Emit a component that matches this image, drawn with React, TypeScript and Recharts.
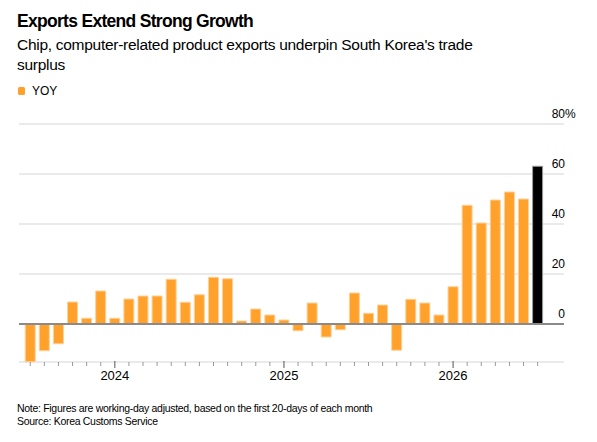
import { Bar, BarChart, CartesianGrid, Cell, ReferenceLine, XAxis, YAxis } from 'recharts'

// Monthly YoY export growth (%), working-day adjusted, first 20 days of each month
const months = [
  '2023-07', '2023-08', '2023-09', '2023-10', '2023-11', '2023-12',
  '2024-01', '2024-02', '2024-03', '2024-04', '2024-05', '2024-06',
  '2024-07', '2024-08', '2024-09', '2024-10', '2024-11', '2024-12',
  '2025-01', '2025-02', '2025-03', '2025-04', '2025-05', '2025-06',
  '2025-07', '2025-08', '2025-09', '2025-10', '2025-11', '2025-12',
  '2026-01', '2026-02', '2026-03', '2026-04', '2026-05', '2026-06',
  '2026-07',
]

const yoy = [
  -15.1, -10.7, -7.9, 8.8, 2.3, 13.2,
  2.3, 10.0, 11.2, 11.2, 17.9, 8.7,
  11.7, 18.7, 18.1, 1.2, 6.0, 3.6,
  1.6, -2.7, 8.4, -5.2, -2.3, 12.4,
  4.3, 7.6, -10.5, 9.9, 8.4, 3.6,
  14.9, 47.5, 40.4, 49.6, 52.8, 50.0,
  63.1,
]

const yTicks = [0, 20, 40, 60, 80]

const ORANGE = '#ffa12b'
const FONT = '"Liberation Sans", Arial, sans-serif'

const data = months.map((m, i) => ({ idx: i, month: m, yoy: yoy[i] }))
const lastIdx = data.length - 1

function MonthTick({ x, y, payload }: any) {
  const month = months[payload.value]
  if (!month) return null
  const isJan = month.endsWith('-01')
  return (
    <g>
      <line
        x1={x}
        x2={x}
        y1={isJan ? y - 1 : y}
        y2={isJan ? y + 6 : y + 4}
        stroke={isJan ? '#555' : '#999'}
        strokeWidth={1}
      />
      {isJan && (
        <text x={x} y={y + 18} textAnchor="middle" fontSize={13} fill="#000" fontFamily={FONT}>
          {month.slice(0, 4)}
        </text>
      )}
    </g>
  )
}

function ValueTick({ x, y, payload }: any) {
  const top = payload.value === yTicks[yTicks.length - 1]
  return (
    <g fontSize={12} fill="#000" fontFamily={FONT}>
      <text x={x + 1} y={y - 6} textAnchor="end">
        {payload.value}
      </text>
      {top && (
        <text x={x + 1} y={y - 6} textAnchor="start">
          %
        </text>
      )}
    </g>
  )
}

export default function App() {
  return (
    <div
      style={{
        position: 'absolute',
        left: 0,
        top: 0,
        width: 597,
        height: 442,
        background: '#fff',
        fontFamily: FONT,
        color: '#000',
      }}
    >
      <div style={{ position: 'absolute', left: 17, top: 12, fontSize: 17.5, lineHeight: '18px', fontWeight: 700, letterSpacing: -0.7 }}>
        Exports Extend Strong Growth
      </div>
      <div style={{ position: 'absolute', left: 17, top: 35, width: 490, fontSize: 15.5, lineHeight: '20px', letterSpacing: -0.28 }}>
        Chip, computer-related product exports underpin South Korea's trade surplus
      </div>
      <div style={{ position: 'absolute', left: 18, top: 84, fontSize: 12, lineHeight: '14px', display: 'flex', alignItems: 'center' }}>
        <span style={{ display: 'inline-block', width: 7, height: 8, borderRadius: 1.5, background: ORANGE, marginRight: 7 }} />
        YOY
      </div>

      <div style={{ position: 'absolute', left: 0, top: 0 }}>
        <BarChart width={597} height={442} data={data} margin={{ top: 124, right: 0, bottom: 0, left: 19 }}>
          <CartesianGrid horizontal vertical={false} stroke="#e3e3e3" strokeWidth={1.3} />
          <XAxis
            dataKey="idx"
            type="number"
            domain={[-0.8, 37.87]}
            ticks={data.map((d) => d.idx)}
            interval={0}
            tickSize={0}
            tickMargin={0}
            axisLine={false}
            tickLine={false}
            tick={<MonthTick />}
            height={80}
          />
          <YAxis
            orientation="right"
            type="number"
            domain={[-15.2, 80]}
            ticks={yTicks}
            width={33}
            tickSize={0}
            tickMargin={0}
            axisLine={false}
            tickLine={false}
            tick={<ValueTick />}
          />
          <Bar dataKey="yoy" barSize={10} isAnimationActive={false} strokeWidth={1}>
            {data.map((d) => (
              <Cell
                key={d.month}
                fill={d.idx === lastIdx ? '#000' : ORANGE}
                stroke={d.idx === lastIdx ? '#9a9a9a' : '#ffd199'}
              />
            ))}
          </Bar>
          <ReferenceLine y={0} stroke="#8a8a8a" strokeWidth={2} />
        </BarChart>
      </div>

      <div style={{ position: 'absolute', left: 17, top: 402, fontSize: 10.5, lineHeight: '13.3px', letterSpacing: -0.3 }}>
        Note: Figures are working-day adjusted, based on the first 20-days of each month
        <br />
        Source: Korea Customs Service
      </div>
    </div>
  )
}
